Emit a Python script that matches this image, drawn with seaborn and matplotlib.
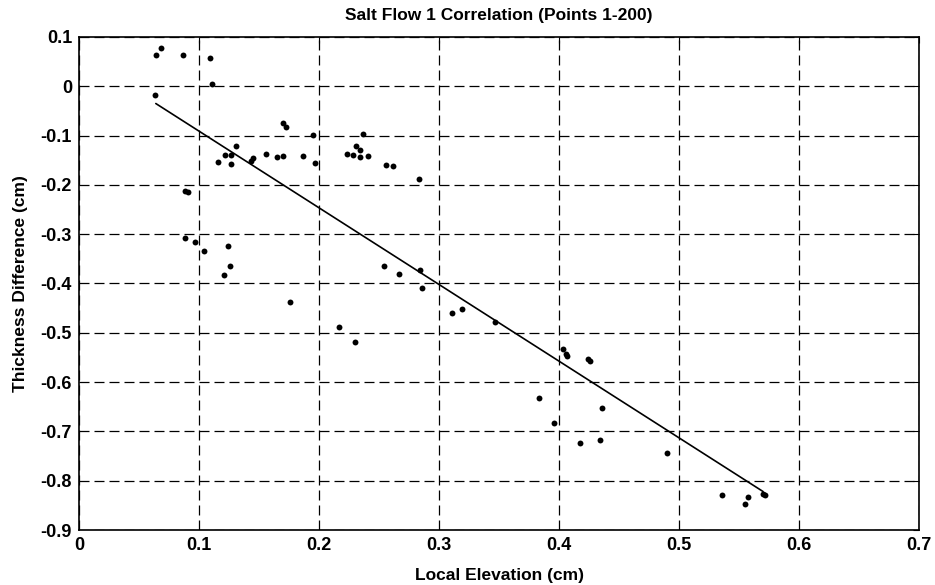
import numpy as np
import pandas as pd
import seaborn as sns
import matplotlib.pyplot as plt

# points
elev = [0.064, 0.068, 0.063, 0.087, 0.109, 0.111, 0.088, 0.091, 0.088, 0.097,
        0.104, 0.124, 0.126, 0.121, 0.176, 0.116, 0.122, 0.127, 0.127, 0.131,
        0.143, 0.145, 0.156, 0.165, 0.170, 0.170, 0.1725, 0.187, 0.195, 0.197,
        0.223, 0.228, 0.231, 0.234, 0.234, 0.237, 0.241, 0.256, 0.262, 0.283,
        0.217, 0.230, 0.254, 0.267, 0.284, 0.286, 0.311, 0.319, 0.347, 0.403,
        0.406, 0.407, 0.424, 0.426, 0.383, 0.396, 0.436, 0.4175, 0.434, 0.490,
        0.536, 0.5575, 0.555, 0.570, 0.572]
thick = [0.063, 0.078, -0.017, 0.063, 0.058, 0.004, -0.212, -0.215, -0.308, -0.315,
         -0.335, -0.323, -0.365, -0.383, -0.437, -0.154, -0.140, -0.140, -0.158, -0.122,
         -0.152, -0.146, -0.138, -0.144, -0.141, -0.074, -0.082, -0.141, -0.099, -0.155,
         -0.137, -0.140, -0.122, -0.129, -0.143, -0.097, -0.141, -0.159, -0.162, -0.188,
         -0.488, -0.519, -0.365, -0.381, -0.372, -0.410, -0.460, -0.452, -0.478, -0.532,
         -0.542, -0.548, -0.553, -0.558, -0.632, -0.682, -0.653, -0.724, -0.718, -0.744,
         -0.830, -0.833, -0.848, -0.827, -0.829]

# fitted line end points
fit_x = [0.064, 0.570]
fit_y = [-0.035, -0.822]

x_ticks = [0, 0.1, 0.2, 0.3, 0.4, 0.5, 0.6, 0.7]
x_labels = ["0", "0.1", "0.2", "0.3", "0.4", "0.5", "0.6", "0.7"]
y_ticks = [0.1, 0, -0.1, -0.2, -0.3, -0.4, -0.5, -0.6, -0.7, -0.8, -0.9]
y_labels = ["0.1", "0", "-0.1", "-0.2", "-0.3", "-0.4", "-0.5", "-0.6", "-0.7", "-0.8", "-0.9"]

df = pd.DataFrame({"elev": elev, "thick": thick})
fit_df = pd.DataFrame({"x": fit_x, "y": fit_y})

sns.set_style("white")
plt.rcParams['font.family'] = ['Liberation Sans', 'DejaVu Sans']
plt.rcParams['text.color'] = 'black'
plt.rcParams['axes.labelcolor'] = 'black'

fig = plt.figure(figsize=(9.35, 5.85), dpi=100)
ax = fig.add_axes([0.0845, 0.094, 0.8985, 0.8428])

sns.lineplot(data=fit_df, x="x", y="y", color="black", linewidth=1.2, ax=ax)
sns.scatterplot(data=df, x="elev", y="thick", color="black", s=18, linewidth=0, ax=ax, zorder=3)

ax.set_xlim(0, 0.7)
ax.set_ylim(-0.9, 0.1)
ax.set_xticks(x_ticks)
ax.set_xticklabels(x_labels)
ax.set_yticks(y_ticks)
ax.set_yticklabels(y_labels)
ax.tick_params(direction="in", length=4, width=0.8, top=True, right=True,
               labelsize=13, colors="black", pad=5)
for lab in ax.get_xticklabels() + ax.get_yticklabels():
    lab.set_fontweight("bold")

ax.grid(True, color="black", linestyle=(0, (8, 4)), linewidth=0.9)
for sp in ax.spines.values():
    sp.set_color("black")
    sp.set_linewidth(1.2)

ax.set_xlabel("Local Elevation (cm)", fontsize=12.5, fontweight="bold", labelpad=10, color="black")
ax.set_ylabel("Thickness Difference (cm)", fontsize=12.5, fontweight="bold", labelpad=9, color="black")
ax.set_title("Salt Flow 1 Correlation (Points 1-200)", fontsize=12.5, fontweight="bold", pad=12, color="black")

plt.savefig("out.png", dpi=100)
